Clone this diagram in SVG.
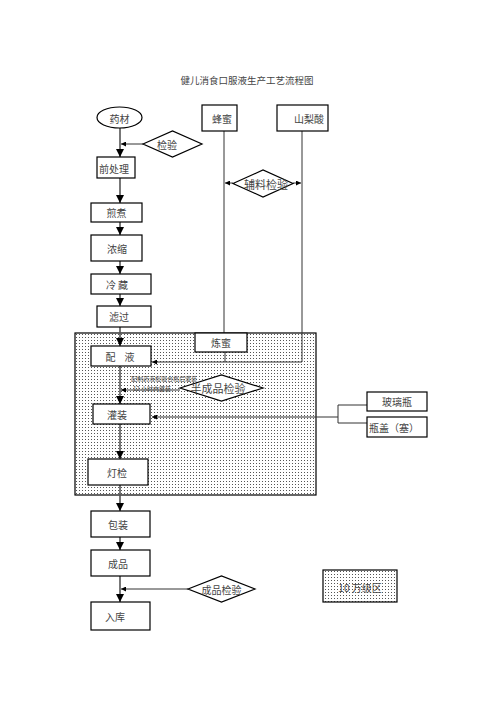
<svg xmlns="http://www.w3.org/2000/svg" width="496" height="702" viewBox="0 0 496 702">
<defs>
<pattern id="dots" width="3" height="3" patternUnits="userSpaceOnUse">
<rect width="3" height="3" fill="#fff"/>
<rect x="1" y="1" width="1" height="1" fill="#555"/>
</pattern>
<marker id="ah" viewBox="0 0 10 10" refX="10" refY="5" markerWidth="5" markerHeight="5" orient="auto-start-reverse">
<path d="M0,0 L10,5 L0,10 z" fill="#000"/>
</marker>
<style>
.box{fill:#fff;stroke:#000;stroke-width:1.2}
.t{font-family:"Noto Sans CJK SC","Liberation Serif",serif;font-size:10px;fill:#444;text-anchor:middle;dominant-baseline:central}
.main{stroke:#555;stroke-width:1.6;fill:none}
.ln{stroke:#333;stroke-width:1;fill:none}
.arr{marker-end:url(#ah)}
</style>
</defs>
<rect width="496" height="702" fill="#fff"/>
<text class="t" x="247" y="80" style="font-size:9.5px">健儿消食口服液生产工艺流程图</text>

<g id="zone"><rect x="75" y="333" width="241" height="162" fill="url(#dots)" stroke="#000" stroke-width="1.2"/></g>

<g id="connectors">
<line class="main arr" x1="120" y1="128" x2="120" y2="157"/>
<line class="main arr" x1="120" y1="178" x2="120" y2="203"/>
<line class="main arr" x1="120" y1="222" x2="120" y2="235"/>
<line class="main arr" x1="120" y1="261" x2="120" y2="274"/>
<line class="main arr" x1="120" y1="294" x2="120" y2="306"/>
<line class="main arr" x1="120" y1="327" x2="120" y2="346"/>
<line class="main arr" x1="120" y1="366" x2="120" y2="404"/>
<line class="main arr" x1="120" y1="424" x2="120" y2="459"/>
<line class="main arr" x1="120" y1="485" x2="120" y2="511"/>
<line class="main arr" x1="120" y1="537" x2="120" y2="550"/>
<line class="main arr" x1="120" y1="576" x2="120" y2="602"/>
<line class="ln arr" x1="143" y1="144" x2="121" y2="144"/>
<line class="ln" x1="224" y1="131" x2="224" y2="333" stroke="#666"/>
<line class="ln" x1="302" y1="131" x2="302" y2="362"/>
<line class="ln arr" x1="233" y1="183" x2="225" y2="183"/>
<line class="ln arr" x1="293" y1="183" x2="301" y2="183"/>
<line class="ln" x1="225" y1="352" x2="225" y2="362"/>
<polyline class="ln arr" points="302,362 152,362" stroke="#555" stroke-width="1.4"/>
<line class="ln arr" x1="180" y1="390" x2="121" y2="390"/>
<polyline class="ln" points="367,405 338,405 338,423 367,423"/>
<line class="ln arr" x1="338" y1="417" x2="152" y2="417"/>
<line class="ln arr" x1="188" y1="589" x2="121" y2="589"/>
</g>

<g id="yaocai"><ellipse class="box" cx="119.5" cy="117.5" rx="22.5" ry="10.5"/><text class="t" x="119.5" y="118">药材</text></g>
<g id="fengmi"><rect class="box" x="202" y="105" width="35" height="26"/><text class="t" x="222" y="118">蜂蜜</text></g>
<g id="shanlisuan"><rect class="box" x="277" y="105" width="51" height="26"/><text class="t" x="309" y="118">山梨酸</text></g>
<g id="jianyan"><polygon class="box" points="143,144 172.5,131 202,144 172.5,157"/><text class="t" x="167" y="144">检验</text></g>
<g id="qianchuli"><rect class="box" x="97" y="157" width="38" height="21"/><text class="t" x="114" y="168">前处理</text></g>
<g id="fuliaojianyan"><polygon class="box" points="233,183.5 263,170 293,183.5 263,197"/><text class="t" x="266" y="184" style="font-size:11px">辅料检验</text></g>
<g id="jianzhu"><rect class="box" x="91" y="203" width="51" height="19"/><text class="t" x="116.5" y="212.5">煎煮</text></g>
<g id="nongsuo"><rect class="box" x="91" y="235" width="51" height="26"/><text class="t" x="117" y="248">浓缩</text></g>
<g id="lengcang"><rect class="box" x="91" y="274" width="60" height="20"/><text class="t" x="117" y="284">冷 藏</text></g>
<g id="lvguo"><rect class="box" x="97" y="306" width="54" height="21"/><text class="t" x="119" y="316.5">滤过</text></g>
<g id="lianmi"><rect class="box" x="195" y="333" width="52" height="19"/><text class="t" x="221" y="342.5">炼蜜</text></g>
<g id="peiye"><rect class="box" x="91" y="346" width="60" height="20"/><text class="t" x="120" y="356" xml:space="preserve">配    液</text></g>
<g id="bancheng"><polygon class="box" points="180,388 221.5,375 263,388 221.5,401"/><text class="t" x="218" y="388" style="font-size:11px">半成品检验</text></g>
<g id="note"><text class="t" x="164" y="378" style="font-size:6px">配制药液检验合格后灌装</text><text class="t" x="152" y="388" style="font-size:6px">12 小时内灌装</text></g>
<g id="guanzhuang"><rect class="box" x="93" y="404" width="57" height="20"/><text class="t" x="117" y="414">灌装</text></g>
<g id="boliping"><rect class="box" x="367" y="392" width="60" height="19"/><text class="t" x="397" y="401.5">玻璃瓶</text></g>
<g id="pinggai"><rect class="box" x="367" y="417" width="60" height="20"/><text class="t" x="394" y="427">瓶盖（塞）</text></g>
<g id="dengjian"><rect class="box" x="88" y="459" width="60" height="26"/><text class="t" x="117" y="472">灯检</text></g>
<g id="baozhuang"><rect class="box" x="91" y="511" width="59" height="26"/><text class="t" x="118" y="524">包装</text></g>
<g id="chengpin"><rect class="box" x="91" y="550" width="59" height="26"/><text class="t" x="118" y="563">成品</text></g>
<g id="chengpinjianyan"><polygon class="box" points="188,589 221.5,576 255,589 221.5,602"/><text class="t" x="221.5" y="589">成品检验</text></g>
<g id="ruku"><rect class="box" x="91" y="602" width="59" height="28"/><text class="t" x="115" y="616">入库</text></g>
<g id="legend"><rect x="323" y="570" width="74" height="32" fill="url(#dots)" stroke="#000" stroke-width="1.2"/><text class="t" x="360" y="587">10 万级区</text></g>
</svg>
